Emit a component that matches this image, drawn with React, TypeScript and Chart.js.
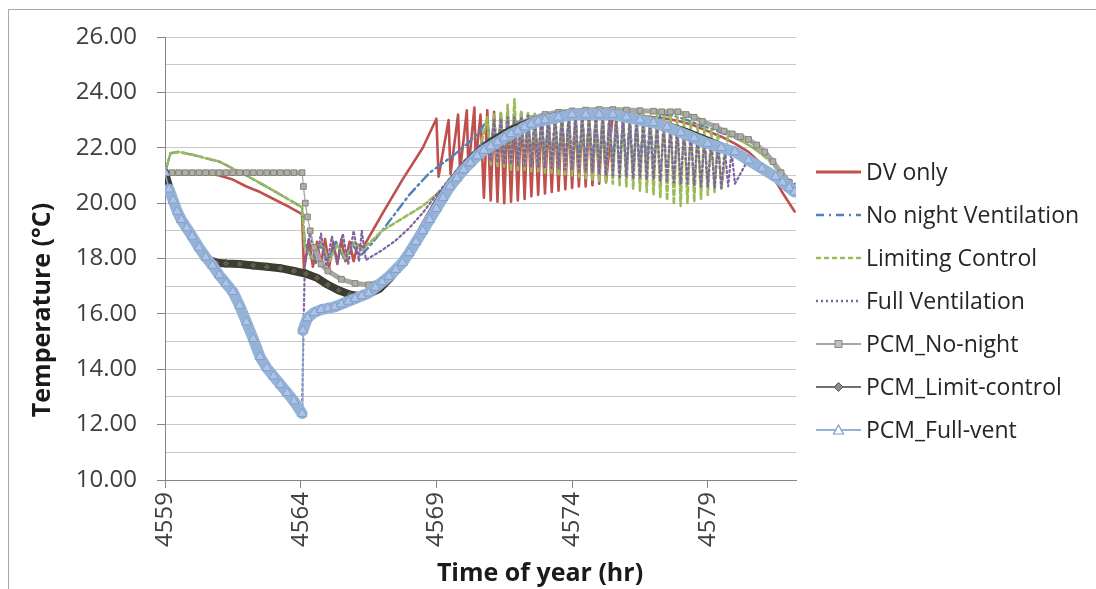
import React, { useEffect, useRef } from 'react';
import { Chart, registerables } from 'chart.js';

Chart.register(...registerables);

// ---------- labels ----------
const seriesNames = [
  'DV only',
  'No night Ventilation',
  'Limiting Control',
  'Full Ventilation',
  'PCM_No-night',
  'PCM_Limit-control',
  'PCM_Full-vent',
];
const xTickValues = [4559, 4564, 4569, 4574, 4579];
const yTickValues = [10, 11, 12, 13, 14, 15, 16, 17, 18, 19, 20, 21, 22, 23, 24, 25, 26];
const xTitle = 'Time of year (hr)';
const yTitle = 'Temperature (°C)';
const xMin = 4559;
const xMax = 4582.25;
const yMin = 10;
const yMax = 26;

// shared time steps of the dense (oscillating) part of the day, hours
const bandTimes = [
  4570.625, 4570.75, 4570.875, 4571, 4571.125, 4571.25, 4571.375, 4571.5, 4571.625, 4571.75,
  4571.875, 4572, 4572.125, 4572.25, 4572.375, 4572.5, 4572.625, 4572.75, 4572.875, 4573,
  4573.125, 4573.25, 4573.375, 4573.5, 4573.625, 4573.75, 4573.875, 4574, 4574.125, 4574.25,
  4574.375, 4574.5, 4574.625, 4574.75, 4574.875, 4575, 4575.125, 4575.25, 4575.375, 4575.5,
  4575.625, 4575.75, 4575.875, 4576, 4576.125, 4576.25, 4576.375, 4576.5, 4576.625, 4576.75,
  4576.875, 4577, 4577.125, 4577.25, 4577.375, 4577.5, 4577.625, 4577.75, 4577.875, 4578,
  4578.125, 4578.25, 4578.375, 4578.5, 4578.625, 4578.75, 4578.875, 4579, 4579.125, 4579.25,
  4579.375, 4579.5, 4579.625, 4579.75, 4579.875, 4580,
];

// ---------- DV only ----------
const dvOnlyPre = [
  [4559, 21.1], [4559.5, 21.15], [4560, 21.15], [4560.5, 21.1], [4561, 21.0], [4561.5, 20.85],
  [4562, 20.6], [4562.5, 20.4], [4563, 20.15], [4563.5, 19.9], [4564.05, 19.6],
  [4564.12, 17.6], [4564.3, 18.7], [4564.45, 17.7], [4564.6, 18.6], [4564.75, 17.8], [4564.9, 18.7],
  [4565.05, 17.7], [4565.2, 18.6], [4565.35, 17.8], [4565.5, 18.7], [4565.65, 17.9], [4565.8, 18.6],
  [4565.95, 17.9], [4566.1, 18.5], [4566.3, 18.4],
  [4567, 19.6], [4567.75, 20.85], [4568.5, 22.0], [4569.0, 23.05],
  [4569.08, 20.95], [4569.45, 23.0], [4569.52, 21.05], [4569.8, 23.2], [4569.87, 21.15],
  [4570.12, 23.35], [4570.18, 21.2], [4570.4, 23.45], [4570.45, 21.5],
];
const dvOnlyBandFrom = 0;
const dvOnlyBand = [
  23.2, 20.2, 23.35, 20.1, 23.3, 20.05, 23.25, 20.0, 23.3, 20.05,
  23.2, 20.1, 23.25, 20.15, 23.2, 20.25, 23.1, 20.3, 23.15, 20.35,
  23.1, 20.4, 23.1, 20.45, 23.15, 20.5, 23.1, 20.55, 23.1, 20.6,
  23.1, 20.6, 23.1, 20.65, 23.1, 20.7, 23.1, 20.75,
];
const dvOnlyPost = [
  [4575.5, 23.2], [4576, 23.2], [4576.5, 23.15], [4577, 23.1], [4577.5, 23.05], [4578, 22.95],
  [4578.5, 22.8], [4579, 22.6], [4579.5, 22.4], [4580, 22.15], [4580.5, 21.85], [4581, 21.4],
  [4581.5, 20.8], [4581.8, 20.3], [4582.2, 19.7],
];

// ---------- No night Ventilation ----------
const noNightPre = [
  [4559, 21.1], [4559.2, 21.8], [4559.5, 21.85], [4560, 21.75], [4561, 21.5], [4562, 21.0],
  [4563, 20.45], [4564.05, 19.85],
  [4564.15, 18.6], [4564.4, 18.0], [4564.7, 18.5], [4565, 17.9], [4565.3, 18.6], [4565.6, 18.0],
  [4565.9, 18.5], [4566.2, 18.1],
  [4566.5, 18.4], [4567, 19.0], [4567.5, 19.65], [4568, 20.3], [4568.75, 21.1], [4569.6, 21.7],
  [4570.2, 22.2], [4570.6, 22.6],
];
const noNightBandFrom = 2;
const noNightBand = [
  23.0, 21.9, 23.1, 21.8, 23.1, 21.7, 23.2, 21.7, 23.15, 21.6,
  23.2, 21.6, 23.2, 21.5, 23.2, 21.5, 23.2, 21.5, 23.2, 21.45,
  23.2, 21.4, 23.2, 21.4, 23.2, 21.4, 23.2, 21.35, 23.2, 21.3,
  23.2, 21.3, 23.2, 21.3, 23.2, 21.25, 23.2, 21.25, 23.2, 21.2,
  23.15, 21.2, 23.15, 21.15, 23.1, 21.2, 23.1, 21.3, 23.1, 21.5,
];
const noNightPost = [
  [4577.25, 23.2], [4577.75, 23.15], [4578.25, 23.0], [4578.75, 22.8], [4579.25, 22.65],
  [4579.75, 22.45], [4580.25, 22.25], [4580.75, 21.95], [4581.35, 21.55], [4581.9, 20.95],
  [4582.2, 20.7],
];

// ---------- Limiting Control ----------
const limitCtrlPre = [
  [4559, 21.1], [4559.2, 21.8], [4559.5, 21.85], [4560, 21.75], [4561, 21.5], [4562, 21.0],
  [4563, 20.45], [4564.05, 19.85],
  [4564.15, 18.4], [4564.45, 18.0], [4564.75, 18.6], [4565.05, 17.9], [4565.35, 18.5],
  [4565.65, 18.0], [4565.95, 18.6], [4566.25, 18.3],
  [4567, 19.0], [4568, 19.6], [4568.5, 19.9], [4569.1, 20.4], [4569.85, 20.95], [4570.3, 21.5],
  [4570.6, 21.9],
];
const limitCtrlBandFrom = 2;
const limitCtrlBand = [
  23.1, 21.4, 23.2, 21.3, 23.3, 21.3, 23.55, 21.2, 23.75, 21.2,
  23.35, 21.2, 23.25, 21.15, 23.25, 21.15, 23.2, 21.1, 23.25, 21.1,
  23.2, 21.05, 23.25, 21.05, 23.2, 21.0, 23.25, 20.95, 23.2, 20.9,
  23.25, 20.85, 23.2, 20.8, 23.25, 20.75, 23.2, 20.7, 23.25, 20.65,
  23.2, 20.6, 23.25, 20.5, 23.2, 20.45, 23.25, 20.4, 23.2, 20.3,
  23.25, 20.2, 23.2, 20.1, 23.2, 19.95, 23.15, 19.9, 23.05, 20.0,
  22.95, 20.05, 22.85, 20.15, 22.75, 20.3, 22.65, 20.4, 22.55, 20.5,
];
const limitCtrlPost = [
  [4579.75, 22.5], [4580.25, 22.25], [4580.75, 21.95], [4581.25, 21.55], [4581.75, 21.0],
  [4582.2, 20.55],
];

// ---------- Full Ventilation ----------
const fullVentPre = [
  [4559, 21.1], [4559.3, 20.1], [4559.6, 19.4], [4560, 18.8], [4560.5, 18.05], [4561, 17.4],
  [4561.5, 16.8], [4562, 15.7], [4562.5, 14.45], [4563, 13.75], [4563.5, 13.15], [4564.05, 12.45],
  [4564.1, 15.3], [4564.15, 17.7],
  [4564.35, 19.0], [4564.55, 17.8], [4564.75, 18.9], [4564.95, 17.7], [4565.15, 18.8],
  [4565.35, 17.8], [4565.55, 18.9], [4565.75, 17.8], [4565.95, 19.0], [4566.15, 17.9],
  [4566.25, 19.0], [4566.4, 17.95],
  [4567, 18.3], [4567.5, 18.65], [4568, 19.1], [4568.5, 19.65], [4569, 20.3], [4569.5, 20.9],
  [4570, 21.5], [4570.5, 22.0], [4570.875, 22.3],
];
const fullVentBandFrom = 3;
const fullVentBand = [
  21.5,
  23.0, 21.45, 23.05, 21.4, 23.1, 21.4, 23.1, 21.35, 23.1, 21.35,
  23.15, 21.3, 23.1, 21.3, 23.15, 21.3, 23.1, 21.25, 23.15, 21.25,
  23.1, 21.2, 23.15, 21.2, 23.1, 21.15, 23.15, 21.1, 23.1, 21.1,
  23.15, 21.05, 23.1, 21.0, 23.1, 21.0, 23.05, 20.95, 23.05, 20.95,
  23.0, 20.9, 23.0, 20.9, 22.95, 20.85, 22.9, 20.85, 22.85, 20.8,
  22.8, 20.8, 22.75, 20.75, 22.7, 20.7, 22.6, 20.7, 22.5, 20.65,
  22.4, 20.6, 22.3, 20.6, 22.2, 20.55, 22.1, 20.55, 22.0, 20.6,
  21.9, 20.7,
];
const fullVentPost = [
  [4580.5, 21.6], [4581, 21.25], [4581.5, 20.95], [4582.2, 20.4],
];

// ---------- PCM_No-night ----------
const pcmNoNight = [
  [4559, 21.1], [4559.25, 21.1], [4559.5, 21.1], [4559.75, 21.1], [4560, 21.1], [4560.25, 21.1],
  [4560.5, 21.1], [4560.75, 21.1], [4561, 21.1], [4561.25, 21.1], [4561.5, 21.1], [4561.75, 21.1],
  [4562, 21.1], [4562.25, 21.1], [4562.5, 21.1], [4562.75, 21.1], [4563, 21.1], [4563.25, 21.1],
  [4563.5, 21.1], [4563.75, 21.1], [4564.05, 21.1],
  [4564.1, 20.6], [4564.17, 20.0], [4564.25, 19.5], [4564.35, 19.0], [4564.5, 18.4],
  [4564.75, 17.8], [4565, 17.55], [4565.5, 17.25], [4566, 17.1], [4566.5, 17.05], [4567, 17.2],
  [4567.5, 17.6], [4568, 18.3], [4568.5, 19.1], [4569, 19.9], [4569.5, 20.6], [4570, 21.2],
  [4570.5, 21.75], [4571, 22.2], [4571.5, 22.55], [4572, 22.85], [4572.5, 23.05], [4573, 23.2],
  [4573.5, 23.28], [4574, 23.33], [4574.5, 23.36], [4575, 23.38], [4575.5, 23.38], [4576, 23.36],
  [4576.5, 23.34], [4577, 23.32], [4577.3, 23.3],
  [4577.625, 23.3], [4577.9, 23.3], [4578.2, 23.2], [4578.5, 23.1], [4578.8, 22.95],
  [4579.3, 22.76], [4579.6, 22.6], [4579.9, 22.5], [4580.2, 22.4], [4580.5, 22.3],
  [4580.8, 22.1], [4581.1, 21.85], [4581.4, 21.5], [4581.7, 21.1], [4582.0, 20.75],
  [4582.2, 20.5],
];

// ---------- PCM_Limit-control ----------
const pcmLimit = [
  [4559, 21.1], [4559.3, 20.1], [4559.6, 19.4], [4560, 18.8], [4560.3, 18.3], [4560.6, 17.95],
  [4560.9, 17.85], [4561.25, 17.82], [4561.75, 17.8], [4562.25, 17.75], [4562.75, 17.7],
  [4563.25, 17.65], [4563.75, 17.55], [4564.2, 17.45], [4564.6, 17.3], [4565, 17.05],
  [4565.4, 16.85], [4565.8, 16.7], [4566.1, 16.65], [4566.5, 16.72], [4566.9, 16.9],
  [4567.3, 17.3], [4567.7, 17.8], [4568.1, 18.35], [4568.5, 19.1], [4569, 19.95], [4569.5, 20.7],
  [4570, 21.3], [4570.5, 21.8], [4571, 22.2], [4571.5, 22.5], [4571.875, 22.7],
  [4572.25, 22.85], [4572.75, 23.0], [4573.25, 23.1], [4573.75, 23.2], [4574.5, 23.25],
  [4575.25, 23.25], [4576, 23.15], [4576.75, 23.0], [4577.5, 22.8], [4578.25, 22.55],
  [4579, 22.25], [4579.5, 22.05], [4580, 21.85], [4580.5, 21.55], [4581, 21.25], [4581.5, 20.95],
  [4582.2, 20.4],
];

// ---------- PCM_Full-vent ----------
const pcmFullVent = [
  [4559, 21.1], [4559.15, 20.5], [4559.3, 20.1], [4559.45, 19.7], [4559.6, 19.4], [4559.8, 19.1],
  [4560, 18.8], [4560.25, 18.4], [4560.5, 18.05], [4560.75, 17.75], [4561, 17.4], [4561.25, 17.1],
  [4561.5, 16.8], [4561.75, 16.3], [4562, 15.7], [4562.25, 15.1], [4562.5, 14.45], [4562.75, 14.05],
  [4563, 13.75], [4563.25, 13.45], [4563.5, 13.15], [4563.75, 12.85], [4564.05, 12.4],
  [4564.08, 15.4], [4564.25, 15.85], [4564.5, 16.05], [4564.75, 16.15], [4565, 16.2],
  [4565.25, 16.25], [4565.5, 16.35], [4565.75, 16.45], [4566, 16.55], [4566.25, 16.65],
  [4566.5, 16.75], [4566.75, 16.95], [4567, 17.15], [4567.25, 17.35], [4567.5, 17.6],
  [4567.75, 17.85], [4568, 18.2], [4568.25, 18.6], [4568.5, 19.0], [4568.75, 19.4], [4569, 19.8],
  [4569.25, 20.2], [4569.5, 20.6], [4569.75, 20.9], [4570, 21.2], [4570.25, 21.45], [4570.5, 21.7],
  [4570.75, 21.9], [4571, 22.05], [4571.25, 22.2], [4571.5, 22.35], [4571.75, 22.5], [4572, 22.6],
  [4572.25, 22.75], [4572.5, 22.85], [4572.75, 22.95], [4573, 23.0], [4573.5, 23.1], [4574, 23.2],
  [4574.5, 23.2], [4575, 23.2], [4575.5, 23.2], [4576, 23.1], [4576.5, 23.0], [4577, 22.9],
  [4577.5, 22.75], [4578, 22.55], [4578.5, 22.35], [4579, 22.15], [4579.5, 22.0], [4580, 21.85],
  [4580.5, 21.55], [4581, 21.25], [4581.5, 20.95], [4581.75, 20.75], [4582, 20.55], [4582.2, 20.4],
];

// ---------- styles ----------
const colDV = '#C0504D';
const colNoNight = '#4F81BD';
const colLimit = '#9BBB59';
const colFull = '#8064A2';
const colPcmNo = '#A6A6A6';
const colPcmLimit = '#3E3D33';
const colPcmFull = '#95B3D7';

const pts = (pairs: number[][]) => pairs.map(([x, y]) => ({ x, y }));
const band = (from: number, vals: number[]) => vals.map((y, i) => ({ x: bandTimes[from + i], y }));

const steepThin = (w: number) => (ctx: any) => {
  const dx = Math.abs(ctx.p1.x - ctx.p0.x);
  const dy = Math.abs(ctx.p1.y - ctx.p0.y);
  return dy > 4 * dx ? 1.3 : w;
};

const legendStyles = [
  { color: colDV, width: 3, dash: [] as number[], marker: '' },
  { color: colNoNight, width: 2.5, dash: [8, 5, 2, 5], marker: '' },
  { color: colLimit, width: 2.5, dash: [5, 3], marker: '' },
  { color: colFull, width: 2.5, dash: [2, 3], marker: '' },
  { color: colPcmNo, width: 2, dash: [] as number[], marker: 'square' },
  { color: '#404040', width: 1.5, dash: [] as number[], marker: 'diamond' },
  { color: colPcmFull, width: 2, dash: [] as number[], marker: 'triangle' },
];

const decorPlugin = {
  id: 'decor',
  beforeDraw(chart: any) {
    const ctx = chart.ctx;
    ctx.save();
    ctx.strokeStyle = '#A6A6A6';
    ctx.lineWidth = 1;
    ctx.beginPath();
    ctx.moveTo(8.5, 589);
    ctx.lineTo(8.5, 9.5);
    ctx.lineTo(1096, 9.5);
    ctx.stroke();
    ctx.restore();
  },
  afterDraw(chart: any) {
    const ctx = chart.ctx;
    ctx.save();
    const lx0 = 816;
    const lx1 = 861;
    const tx = 866;
    const ly0 = 172;
    const gap = 43;
    seriesNames.forEach((name, i) => {
      const st = legendStyles[i];
      const y = ly0 + i * gap;
      ctx.strokeStyle = st.color;
      ctx.lineWidth = st.width;
      ctx.setLineDash(st.dash);
      ctx.beginPath();
      ctx.moveTo(lx0, y);
      ctx.lineTo(lx1, y);
      ctx.stroke();
      ctx.setLineDash([]);
      const cx = (lx0 + lx1) / 2;
      if (st.marker === 'square') {
        ctx.fillStyle = '#BFBFBF';
        ctx.strokeStyle = '#8C8C8C';
        ctx.lineWidth = 1;
        ctx.fillRect(cx - 3.5, y - 3.5, 7, 7);
        ctx.strokeRect(cx - 3.5, y - 3.5, 7, 7);
      } else if (st.marker === 'diamond') {
        ctx.fillStyle = '#8C8C8C';
        ctx.strokeStyle = '#595959';
        ctx.lineWidth = 1;
        ctx.beginPath();
        ctx.moveTo(cx, y - 4.5);
        ctx.lineTo(cx + 4.5, y);
        ctx.lineTo(cx, y + 4.5);
        ctx.lineTo(cx - 4.5, y);
        ctx.closePath();
        ctx.fill();
        ctx.stroke();
      } else if (st.marker === 'triangle') {
        ctx.fillStyle = '#FFFFFF';
        ctx.strokeStyle = '#7F9CCB';
        ctx.lineWidth = 1.2;
        ctx.beginPath();
        ctx.moveTo(cx, y - 5);
        ctx.lineTo(cx + 5, y + 4);
        ctx.lineTo(cx - 5, y + 4);
        ctx.closePath();
        ctx.fill();
        ctx.stroke();
      }
      ctx.fillStyle = '#262626';
      ctx.font = '23px "Open Sans"';
      ctx.textAlign = 'left';
      ctx.textBaseline = 'middle';
      ctx.fillText(name, tx, y + 1);
    });
    ctx.fillStyle = '#1A1A1A';
    ctx.font = 'bold 25px "Open Sans"';
    ctx.textAlign = 'center';
    ctx.textBaseline = 'middle';
    ctx.fillText(xTitle, 540, 574);
    ctx.translate(43, 310);
    ctx.rotate(-Math.PI / 2);
    ctx.fillText(yTitle, 0, 0);
    ctx.restore();
  },
};

export default function App() {
  const ref = useRef<HTMLCanvasElement | null>(null);
  useEffect(() => {
    if (!ref.current) return;
    const datasets: any[] = [
      {
        label: seriesNames[0],
        data: [...pts(dvOnlyPre), ...band(dvOnlyBandFrom, dvOnlyBand), ...pts(dvOnlyPost)],
        borderColor: colDV,
        borderWidth: 2.6,
        pointRadius: 0,
        order: 7,
      },
      {
        label: seriesNames[1],
        data: [...pts(noNightPre), ...band(noNightBandFrom, noNightBand), ...pts(noNightPost)],
        borderColor: colNoNight,
        borderWidth: 2.4,
        borderDash: [9, 4, 2, 4],
        pointRadius: 0,
        order: 6,
      },
      {
        label: seriesNames[2],
        data: [...pts(limitCtrlPre), ...band(limitCtrlBandFrom, limitCtrlBand), ...pts(limitCtrlPost)],
        borderColor: colLimit,
        borderWidth: 2.6,
        borderDash: [5, 3],
        pointRadius: 0,
        order: 5,
      },
      {
        label: seriesNames[3],
        data: [...pts(fullVentPre), ...band(fullVentBandFrom, fullVentBand), ...pts(fullVentPost)],
        borderColor: colFull,
        borderWidth: 2.2,
        borderDash: [2, 3],
        pointRadius: 0,
        order: 4,
      },
      {
        label: seriesNames[4],
        data: pts(pcmNoNight),
        borderColor: colPcmNo,
        borderWidth: 5,
        segment: { borderWidth: steepThin(5) },
        pointStyle: 'rect',
        pointRadius: 4,
        pointBackgroundColor: '#B0AFA5',
        pointBorderColor: '#85847A',
        pointBorderWidth: 1,
        order: 3,
      },
      {
        label: seriesNames[5],
        data: pts(pcmLimit),
        borderColor: colPcmLimit,
        borderWidth: 8,
        segment: { borderWidth: steepThin(8) },
        pointStyle: 'rectRot',
        pointRadius: 4,
        pointBackgroundColor: '#5E5D4C',
        pointBorderColor: '#333326',
        pointBorderWidth: 1,
        order: 2,
      },
      {
        label: seriesNames[6],
        data: pts(pcmFullVent),
        borderColor: colPcmFull,
        borderWidth: 11,
        segment: { borderWidth: steepThin(11) },
        pointStyle: 'triangle',
        pointRadius: 5.5,
        pointBackgroundColor: '#AFC4E4',
        pointBorderColor: '#819FCF',
        pointBorderWidth: 1,
        order: 1,
      },
    ];
    datasets.forEach((d) => {
      d.fill = false;
      d.tension = 0;
      d.borderJoinStyle = 'round';
      d.borderCapStyle = 'round';
      d.pointHitRadius = 0;
    });
    const chart = new Chart(ref.current, {
      type: 'line',
      data: { datasets },
      options: {
        animation: false,
        responsive: false,
        events: [],
        layout: { padding: { left: 12, top: 37, right: 300, bottom: 8 } },
        plugins: { legend: { display: false }, tooltip: { enabled: false } },
        scales: {
          x: {
            type: 'linear',
            min: xMin,
            max: xMax,
            afterBuildTicks: (s: any) => {
              s.ticks = xTickValues.map((v) => ({ value: v }));
            },
            afterFit: (s: any) => {
              s.height = 101;
            },
            ticks: {
              autoSkip: false,
              maxRotation: 90,
              minRotation: 90,
              padding: 4,
              color: '#404040',
              font: { family: 'Open Sans', size: 24 },
              callback: (v: any) => String(v),
            },
            grid: {
              drawOnChartArea: false,
              drawTicks: true,
              tickLength: 8,
              tickColor: '#868686',
            },
            border: { color: '#868686', width: 1 },
          },
          y: {
            type: 'linear',
            min: yMin,
            max: yMax,
            afterBuildTicks: (s: any) => {
              s.ticks = yTickValues.map((v) => ({ value: v }));
            },
            afterFit: (s: any) => {
              s.width = 153;
            },
            ticks: {
              autoSkip: false,
              padding: 20,
              color: '#404040',
              font: { family: 'Open Sans', size: 24 },
              callback: (v: any) => (Number(v) % 2 === 0 ? Number(v).toFixed(2) : ''),
            },
            grid: {
              color: '#C8C8C8',
              lineWidth: 1,
              tickLength: 8,
              tickColor: (c: any) => (c.tick && c.tick.value % 2 === 0 ? '#868686' : 'rgba(0,0,0,0)'),
            },
            border: { color: '#868686', width: 1 },
          },
        },
      },
      plugins: [decorPlugin],
    });
    return () => chart.destroy();
  }, []);
  return (
    <div style={{ position: 'fixed', left: 0, top: 0, width: 1096, height: 589, background: '#fff' }}>
      <canvas ref={ref} width={1096} height={589} style={{ width: 1096, height: 589, display: 'block' }} />
    </div>
  );
}
